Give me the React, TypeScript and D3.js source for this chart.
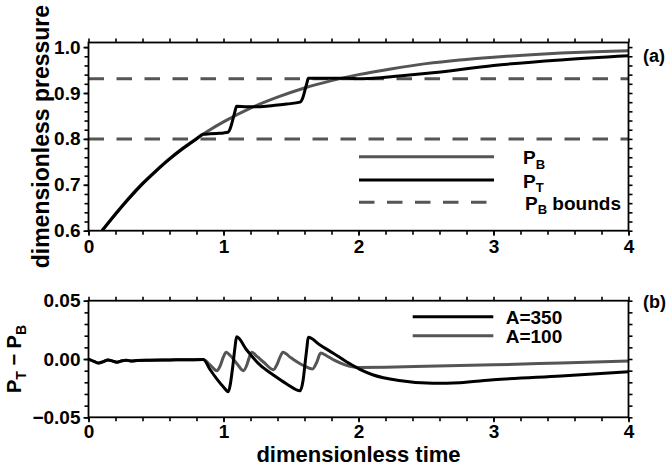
import React, { useEffect, useRef } from 'react';
import * as d3 from 'd3';

// top panel: bottom-hole pressure P_B and tank pressure P_T
const pbTime = [0.1, 0.2, 0.3, 0.4, 0.5, 0.6, 0.7, 0.8, 0.9, 1.0, 1.2, 1.4, 1.6, 1.8, 2.0, 2.25, 2.5, 2.75, 3.0, 3.25, 3.5, 3.75, 4.0];
const pbValues = [0.600, 0.637, 0.672, 0.703, 0.731, 0.757, 0.780, 0.801, 0.820, 0.837, 0.867, 0.891, 0.911, 0.927, 0.940, 0.953, 0.964, 0.972, 0.978, 0.983, 0.987, 0.990, 0.992];

const ptTime = [0.1, 0.2, 0.3, 0.4, 0.5, 0.6, 0.7, 0.8, 0.85, 0.9, 0.95, 1.0, 1.036, 1.05, 1.07, 1.085, 1.097, 1.172, 1.27, 1.369, 1.468, 1.567, 1.59, 1.605, 1.618, 1.628, 1.715, 1.813, 1.91, 2.01, 2.11, 2.3, 2.55, 3.0, 3.5, 4.0];
const ptValues = [0.600, 0.636, 0.670, 0.702, 0.730, 0.756, 0.779, 0.800, 0.810, 0.811, 0.812, 0.813, 0.815, 0.823, 0.843, 0.860, 0.871, 0.870, 0.870, 0.873, 0.876, 0.880, 0.892, 0.908, 0.922, 0.932, 0.932, 0.932, 0.932, 0.931, 0.932, 0.937, 0.944, 0.960, 0.972, 0.981];

const boundValues = [0.8, 0.931];

// bottom panel: P_T - P_B for two values of A
const diff350Time = [0, 0.04, 0.075, 0.11, 0.145, 0.18, 0.21, 0.25, 0.28, 0.32, 0.36, 0.45, 0.6, 0.75, 0.85, 0.9, 0.95, 1.0, 1.036, 1.05, 1.07, 1.085, 1.097, 1.172, 1.27, 1.369, 1.468, 1.567, 1.59, 1.605, 1.618, 1.628, 1.715, 1.813, 1.91, 2.01, 2.11, 2.3, 2.55, 2.75, 3.0, 3.5, 4.0];
const diff350 = [0, -0.002, -0.0035, -0.0022, -0.0008, -0.0018, -0.0027, -0.0015, -0.001, -0.0018, -0.0012, -0.001, -0.0008, -0.0006, -0.0005, -0.009, -0.017, -0.024, -0.028, -0.022, -0.005, 0.010, 0.019, 0.0077, -0.0051, -0.0137, -0.0214, -0.0272, -0.018, -0.003, 0.010, 0.0186, 0.012, 0.0049, -0.0023, -0.0089, -0.0137, -0.0185, -0.0209, -0.0203, -0.0178, -0.0145, -0.011];

const diff100Time = [0, 0.04, 0.075, 0.11, 0.145, 0.18, 0.21, 0.25, 0.28, 0.32, 0.36, 0.45, 0.6, 0.75, 0.85, 0.9, 0.95, 0.975, 1.0, 1.02, 1.05, 1.1, 1.147, 1.17, 1.19, 1.21, 1.25, 1.3, 1.37, 1.395, 1.42, 1.44, 1.5, 1.6, 1.66, 1.69, 1.72, 1.76, 1.82, 1.9, 2.0, 2.2, 2.5, 3.0, 3.5, 4.0];
const diff100 = [0, -0.002, -0.0035, -0.0022, -0.0008, -0.0018, -0.0027, -0.0015, -0.001, -0.0018, -0.0012, -0.001, -0.0008, -0.0006, -0.0005, -0.005, -0.010, -0.006, 0.002, 0.0058, 0.003, -0.004, -0.010, -0.006, 0.001, 0.0058, 0.002, -0.003, -0.0092, -0.005, 0.002, 0.0058, 0.001, -0.006, -0.0085, -0.003, 0.0052, 0.003, -0.001, -0.005, -0.0072, -0.0070, -0.0063, -0.0050, -0.0034, -0.0018];

const xMajor = [0, 1, 2, 3, 4];
const topYMajor = [0.6, 0.7, 0.8, 0.9, 1.0];
const botYMajor = [-0.05, 0, 0.05];

const FONT = '"Liberation Sans", Arial, Helvetica, sans-serif';
const GREY = '#555';

export default function App() {
  const ref = useRef<SVGSVGElement>(null);

  useEffect(() => {
    drawChart();
  }, []);

  function drawChart() {
    const svg = d3.select(ref.current);
    svg.selectAll('*').remove();

    const left = 88.5, right = 628.5;
    const x = d3.scaleLinear().domain([0, 4]).range([left, right]);
    const yTop = d3.scaleLinear().domain([0.6, 1.01]).range([230.7, 42.5]);
    const yBot = d3.scaleLinear().domain([-0.05, 0.05]).range([417.3, 300.7]);

    const xMinor = d3.range(0, 4.001, 0.2);

    // frame with outward ticks on all four sides
    function frame(y: d3.ScaleLinear<number, number>, minorStep: number, yMajor: number[], fmt: (d: number) => string, xPad: number) {
      const [y0, y1] = y.range();
      const yMinor = d3.range(y.domain()[0], y.domain()[1] + 1e-9, minorStep);
      const g = svg.append('g');

      g.append('g').attr('transform', `translate(0,${y0})`)
        .call(d3.axisBottom(x).tickValues(xMinor).tickSize(4).tickFormat(() => ''));
      g.append('g').attr('transform', `translate(0,${y0})`)
        .call(d3.axisBottom(x).tickValues(xMajor).tickSize(5).tickPadding(xPad).tickFormat(d3.format('d')));
      g.append('g').attr('transform', `translate(0,${y1})`)
        .call(d3.axisTop(x).tickValues(xMinor).tickSize(4).tickFormat(() => ''));
      g.append('g').attr('transform', `translate(${left},0)`)
        .call(d3.axisLeft(y).tickValues(yMinor).tickSize(4).tickFormat(() => ''));
      g.append('g').attr('transform', `translate(${left},0)`)
        .call(d3.axisLeft(y).tickValues(yMajor).tickSize(5).tickPadding(3).tickFormat(fmt as any));
      g.append('g').attr('transform', `translate(${right},0)`)
        .call(d3.axisRight(y).tickValues(yMinor).tickSize(4).tickFormat(() => ''));

      g.selectAll('.domain').remove();
      g.selectAll('.tick line').attr('stroke', '#000').attr('stroke-width', 1.6);
      g.selectAll('text')
        .attr('font-family', FONT)
        .attr('font-size', 19)
        .attr('font-weight', 'bold')
        .attr('fill', '#000');

      g.append('rect')
        .attr('x', left).attr('y', y1)
        .attr('width', right - left).attr('height', y0 - y1)
        .attr('fill', 'none').attr('stroke', '#000').attr('stroke-width', 1.8);
    }

    const defs = svg.append('defs');
    defs.append('clipPath').attr('id', 'clipTop').append('rect')
      .attr('x', left).attr('y', 42.5).attr('width', right - left).attr('height', 230.7 - 42.5);
    defs.append('clipPath').attr('id', 'clipBot').append('rect')
      .attr('x', left).attr('y', 300.7).attr('width', right - left).attr('height', 417.3 - 300.7);

    // ---- top panel ----
    const top = svg.append('g').attr('clip-path', 'url(#clipTop)');

    top.selectAll('line.bound')
      .data(boundValues)
      .enter()
      .append('line')
      .attr('x1', left).attr('x2', right)
      .attr('y1', (d) => yTop(d)).attr('y2', (d) => yTop(d))
      .attr('stroke', GREY).attr('stroke-width', 3).attr('stroke-dasharray', '15.5,12.5');

    const lineTop = d3.line<number>()
      .curve(d3.curveMonotoneX);

    top.append('path')
      .attr('d', lineTop(pbTime.map((t, i) => [x(t), yTop(pbValues[i])]) as any))
      .attr('fill', 'none').attr('stroke', GREY).attr('stroke-width', 3);

    top.append('path')
      .attr('d', lineTop(ptTime.map((t, i) => [x(t), yTop(ptValues[i])]) as any))
      .attr('fill', 'none').attr('stroke', '#000').attr('stroke-width', 3);

    frame(yTop, 0.02, topYMajor, d3.format('.1f'), 4);

    // top legend
    const legTop = svg.append('g');
    const legItems = [
      { main: 'P', sub: 'B', rest: '', stroke: GREY, dash: null, ly: 156.7, tx: 523 },
      { main: 'P', sub: 'T', rest: '', stroke: '#000', dash: null, ly: 180, tx: 523 },
      { main: 'P', sub: 'B', rest: ' bounds', stroke: GREY, dash: '15.5,12.5', ly: 202.3, tx: 525 }
    ];
    legItems.forEach((it) => {
      legTop.append('line')
        .attr('x1', 359).attr('x2', 494).attr('y1', it.ly).attr('y2', it.ly)
        .attr('stroke', it.stroke).attr('stroke-width', 3)
        .attr('stroke-dasharray', it.dash);
      const t = legTop.append('text')
        .attr('x', it.tx).attr('y', it.ly + 7.5)
        .attr('font-family', FONT).attr('font-size', 19).attr('font-weight', 'bold');
      t.append('tspan').text(it.main);
      t.append('tspan').attr('font-size', 13).attr('dy', 4.5).text(it.sub);
      if (it.rest) t.append('tspan').attr('dy', -4.5).text(it.rest);
    });

    // ---- bottom panel ----
    const bot = svg.append('g').attr('clip-path', 'url(#clipBot)');
    const lineBot = d3.line<number>().curve(d3.curveMonotoneX);

    bot.append('path')
      .attr('d', lineBot(diff100Time.map((t, i) => [x(t), yBot(diff100[i])]) as any))
      .attr('fill', 'none').attr('stroke', GREY).attr('stroke-width', 3);
    bot.append('path')
      .attr('d', lineBot(diff350Time.map((t, i) => [x(t), yBot(diff350[i])]) as any))
      .attr('fill', 'none').attr('stroke', '#000').attr('stroke-width', 3);

    frame(yBot, 0.01, botYMajor, d3.format('.2f'), 2);

    const legBot = svg.append('g');
    [
      { label: 'A=350', stroke: '#000', ly: 316.7 },
      { label: 'A=100', stroke: GREY, ly: 335.7 }
    ].forEach((it) => {
      legBot.append('line')
        .attr('x1', 412.7).attr('x2', 493.3).attr('y1', it.ly).attr('y2', it.ly)
        .attr('stroke', it.stroke).attr('stroke-width', 3);
      legBot.append('text')
        .attr('x', 505.7).attr('y', it.ly + 7.3)
        .attr('font-family', FONT).attr('font-size', 19).attr('font-weight', 'bold')
        .text(it.label);
    });

    // panel tags
    svg.append('text').attr('x', 643).attr('y', 62)
      .attr('font-family', FONT).attr('font-size', 18).attr('font-weight', 'bold').text('(a)');
    svg.append('text').attr('x', 643).attr('y', 307.5)
      .attr('font-family', FONT).attr('font-size', 18).attr('font-weight', 'bold').text('(b)');

    // axis titles
    svg.append('text')
      .attr('transform', `translate(49,${(42.5 + 230.7) / 2}) rotate(-90)`)
      .attr('text-anchor', 'middle')
      .attr('font-family', FONT).attr('font-size', 23).attr('font-weight', 'bold')
      .text('dimensionless pressure');

    const yl = svg.append('text')
      .attr('transform', `translate(21,${(300.7 + 417.3) / 2}) rotate(-90)`)
      .attr('text-anchor', 'middle')
      .attr('font-family', FONT).attr('font-size', 20).attr('font-weight', 'bold');
    yl.append('tspan').text('P');
    yl.append('tspan').attr('font-size', 14).attr('dy', 5).text('T');
    yl.append('tspan').attr('dy', -5).text(' \u2212 P');
    yl.append('tspan').attr('font-size', 14).attr('dy', 5).text('B');

    svg.append('text')
      .attr('x', (left + right) / 2).attr('y', 462)
      .attr('text-anchor', 'middle')
      .attr('font-family', FONT).attr('font-size', 22).attr('font-weight', 'bold')
      .text('dimensionless time');
  }

  return (
    <svg ref={ref} width={670} height={472}
      style={{ position: 'absolute', left: 0, top: 0, background: '#fff' }} />
  );
}
